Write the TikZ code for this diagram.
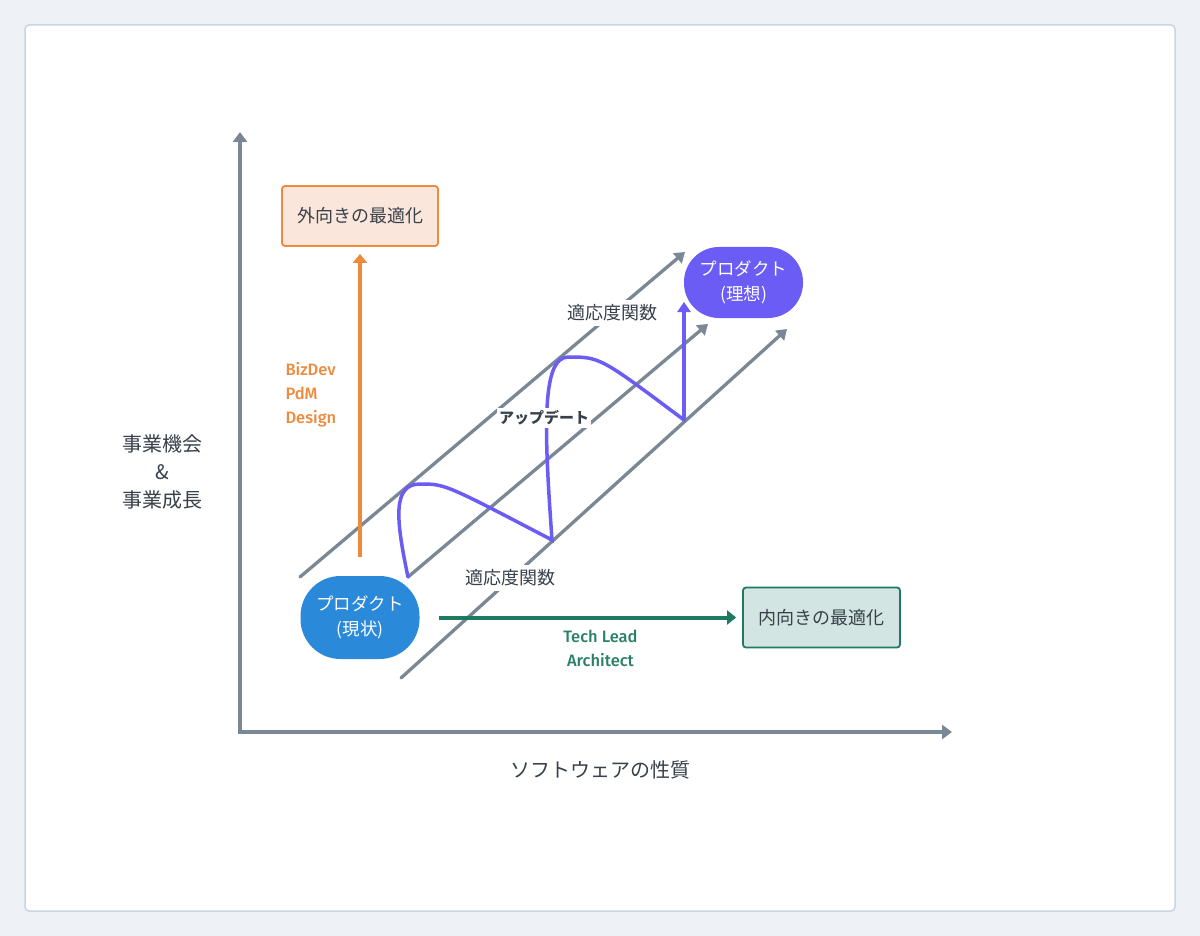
\documentclass[tikz,border=0pt]{standalone}
\usepackage{fontspec}
\setmainfont{Noto Sans CJK JP}
\newfontfamily\latinfont{Fira Sans}[UprightFont={* Medium}]
\usetikzlibrary{arrows.meta}
\definecolor{bgC}{HTML}{EEF2F6}
\definecolor{frameC}{HTML}{C9D5E1}
\definecolor{axisC}{HTML}{7A8795}
\definecolor{orangeC}{HTML}{EE8A3C}
\definecolor{orangeF}{HTML}{FAE6DA}
\definecolor{greenC}{HTML}{1F7A62}
\definecolor{greenF}{HTML}{D3E5E2}
\definecolor{greenT}{HTML}{2A8068}
\definecolor{purpleC}{HTML}{6A5CF5}
\definecolor{blueC}{HTML}{2B89DA}
\definecolor{textC}{HTML}{38404A}
\begin{document}
\begin{tikzpicture}[x=1pt,y=-1pt,
  axisline/.style={draw=axisC, line width=4pt, {Triangle[width=14pt,length=10pt]}-{Triangle[width=14pt,length=10pt]}},
  diag/.style={draw=axisC, line width=3.3pt, line cap=round, -{Triangle[width=13pt,length=10pt]}},
  purp/.style={draw=purpleC, line width=3.5pt, line cap=round},
  pill/.style={text=white, inner sep=0pt, align=center, font=\fontsize{17.5}{25}\selectfont},
  optbox/.style={rounded corners=3pt, line width=1.8pt, minimum height=60pt, inner sep=0pt, text=textC, font=\fontsize{18}{22}\selectfont},
  fitlab/.style={fill=white, inner xsep=2pt, inner ysep=5pt, text=textC, font=\fontsize{18}{22}\selectfont},
  axlab/.style={text=textC, align=center, font=\fontsize{20}{28}\selectfont},
  rolelab/.style={font=\latinfont\fontsize{16.5}{24}\selectfont}
]
\useasboundingbox (0,0) rectangle (1200,936);
\fill[bgC] (0,0) rectangle (1200,936);
\draw[frameC, line width=1.5pt, fill=white, rounded corners=4pt] (25,25) rectangle (1175,911);

% axes
\coordinate (o) at (240,732);
\coordinate (ytip) at (240,132);
\coordinate (xtip) at (952,732);
\draw[axisline] (ytip) -- (o) -- (xtip);
\node[axlab] (ylab) at (162.5,472) {事業機会\\\&\\事業成長};
\node[axlab] (xlab) at (600.5,770) {ソフトウェアの性質};

% diagonal fitness lines
\coordinate (d1s) at (300,577);
\coordinate (d1e) at (685,252);
\coordinate (d2s) at (408,577);
\coordinate (d2e) at (708,324);
\coordinate (d3s) at (401,678);
\coordinate (d3e) at (787,329);
\draw[diag] (d1s) -- (d1e);
\draw[diag] (d2s) -- (d2e);
\draw[diag] (d3s) -- (d3e);

% update path
\coordinate (pB) at (552,540);
\coordinate (pC) at (684,420);
\coordinate (ptip) at (684,302);
\draw[purp] (d2s) .. controls (396,520) and (392,484) .. (420,484)
            .. controls (445,484) .. (pB)
            .. controls (545,440) and (540,357) .. (568,357)
            .. controls (600,357) .. (pC);
\draw[purp, -{Triangle[width=13pt,length=10pt]}] (pC) -- (ptip);

\node[fitlab] (fit1) at (612,313) {適応度関数};
\node[fitlab] (fit2) at (510,578) {適応度関数};
\node[fill=white, inner xsep=2pt, inner ysep=3pt, text=textC, font=\fontsize{15}{18}\selectfont\bfseries] (upd) at (544,418) {アップデート};

% nodes
\node[optbox, draw=orangeC, fill=orangeF, minimum width=156pt] (outer) at (360,216) {外向きの最適化};
\node[optbox, draw=greenC, fill=greenF, minimum width=157pt] (inner) at (821.5,617.5) {内向きの最適化};
\node[pill, fill=blueC, minimum width=119pt, minimum height=83pt, rounded corners=40pt] (cur) at (360,617.5) {プロダクト\\(現状)};
\node[pill, fill=purpleC, minimum width=119pt, minimum height=71pt, rounded corners=35pt] (ideal) at (743.5,282.5) {プロダクト\\(理想)};

% role arrows
\draw[orangeC, line width=4pt, -{Triangle[width=14pt,length=9pt]}, shorten <=19pt, shorten >=7pt] (cur.north) -- (outer.south);
\draw[greenC, line width=4pt, -{Triangle[width=14pt,length=9pt]}, shorten <=19pt, shorten >=6pt] (cur.east) -- (inner.west);
\node[rolelab, text=orangeC, anchor=west, align=left] (biz) at (282,395) {BizDev\\PdM\\Design};
\node[rolelab, text=greenT, align=center] (tech) at (600.5,648) {Tech Lead\\Architect};
\end{tikzpicture}
\end{document}
